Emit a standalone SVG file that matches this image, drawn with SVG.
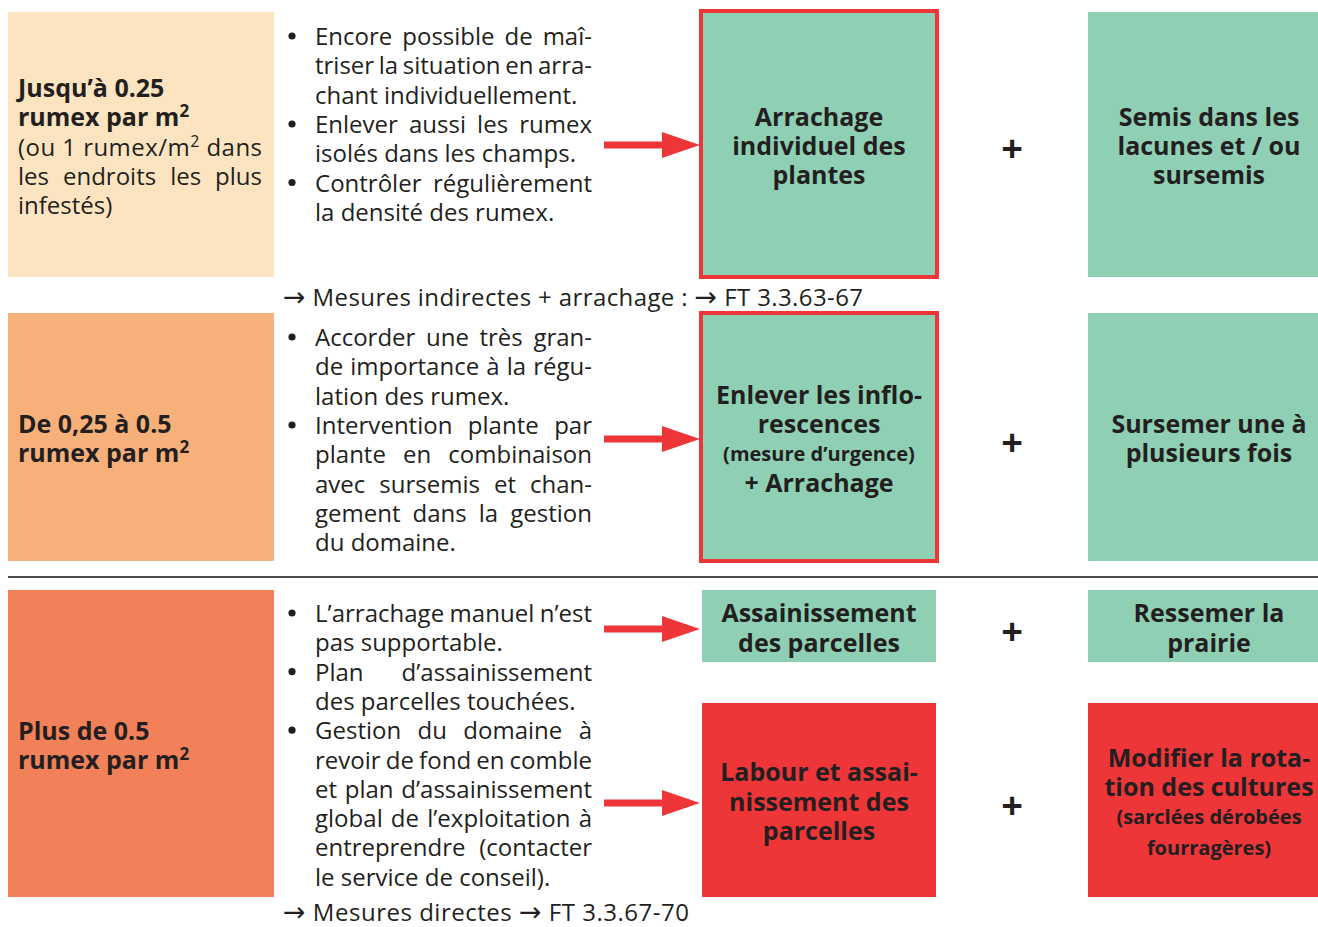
<svg xmlns="http://www.w3.org/2000/svg" width="1318" height="927" viewBox="0 0 1318 927">
<defs>
<style>
.t{font-family:"Open Sans","Liberation Sans",sans-serif;font-size:24px;fill:#231f20}
.b{font-weight:bold;font-size:25px}
.s{font-weight:bold;font-size:20px}
.c{text-anchor:middle}
.e{text-anchor:end}
.ar{font-family:"DejaVu Sans",sans-serif;font-size:27px}
.beige{fill:#fde4c1}
.lor{fill:#f8b07a}
.or{fill:#f28058}
.gr{fill:#8fd0b5}
.rd{fill:#ee3538}
.hl{fill:#8fd0b5;stroke:#ee3538;stroke-width:4}
.bul{fill:#231f20}
.arr{stroke:#ee3538;stroke-width:7;fill:none;marker-end:url(#ah)}
.plus{font-family:"Open Sans","Liberation Sans",sans-serif;font-weight:bold;font-size:38px;fill:#231f20;text-anchor:middle}
</style>
<marker id="ah" markerUnits="userSpaceOnUse" markerWidth="38" markerHeight="26" refX="0" refY="13" orient="auto">
<path d="M0,0 L38,13 L0,26 Z" fill="#ee3538"/>
</marker>
</defs>
<rect width="1318" height="927" fill="#ffffff"/>

<!-- Row 1 -->
<g id="density-low">
<rect class="beige" x="8" y="12" width="266" height="265"/>
<text class="t b" x="18" y="97">Jusqu’à 0.25</text>
<text class="t b" x="18" y="126">rumex par m<tspan font-size="17" dy="-9">2</tspan></text>
<text class="t" x="18" y="156" textLength="244" lengthAdjust="spacing">(ou 1 rumex/m<tspan font-size="16" dy="-9">2</tspan><tspan dy="9"> dans</tspan></text>
<text class="t" x="18" y="184.5" textLength="244" lengthAdjust="spacing" word-spacing="7.7">les endroits les plus</text>
<text class="t" x="18" y="213.5">infestés)</text>
</g>
<g id="text-low">
<circle class="bul" cx="292" cy="36" r="3.6"/>
<circle class="bul" cx="292" cy="124" r="3.6"/>
<circle class="bul" cx="292" cy="182.5" r="3.6"/>
<text class="t" x="315" y="45" textLength="277" lengthAdjust="spacing" word-spacing="3.7">Encore possible de maî-</text>
<text class="t" x="315" y="74.3" textLength="277" lengthAdjust="spacing" word-spacing="-1.6">triser la situation en arra-</text>
<text class="t" x="315" y="103.6">chant individuellement.</text>
<text class="t" x="315" y="133" textLength="277" lengthAdjust="spacing" word-spacing="4.9">Enlever aussi les rumex</text>
<text class="t" x="315" y="162.2">isolés dans les champs.</text>
<text class="t" x="315" y="191.5" textLength="277" lengthAdjust="spacing" word-spacing="5.3">Contrôler régulièrement</text>
<text class="t" x="315" y="220.8">la densité des rumex.</text>
<text class="t" x="283" y="306" textLength="580" lengthAdjust="spacing"><tspan class="ar">→</tspan> Mesures indirectes + arrachage : <tspan class="ar">→</tspan> FT 3.3.63-67</text>
</g>
<g id="action-low">
<rect class="hl" x="701" y="11" width="236" height="266"/>
<text class="t b c" x="819" y="126">Arrachage</text>
<text class="t b c" x="819" y="155">individuel des</text>
<text class="t b c" x="819" y="184">plantes</text>
</g>
<g id="plus-low"><text class="plus" x="1012" y="162">+</text></g>
<g id="extra-low">
<rect class="gr" x="1088" y="12" width="242" height="265"/>
<text class="t b c" x="1209" y="126">Semis dans les</text>
<text class="t b c" x="1209" y="155">lacunes et / ou</text>
<text class="t b c" x="1209" y="184">sursemis</text>
</g>

<!-- Row 2 -->
<g id="density-mid">
<rect class="lor" x="8" y="313" width="266" height="248"/>
<text class="t b" x="18" y="433">De 0,25 à 0.5</text>
<text class="t b" x="18" y="462">rumex par m<tspan font-size="17" dy="-9">2</tspan></text>
</g>
<g id="text-mid">
<circle class="bul" cx="292" cy="337" r="3.6"/>
<circle class="bul" cx="292" cy="425" r="3.6"/>
<text class="t" x="315" y="346" textLength="277" lengthAdjust="spacing" word-spacing="4.4">Accorder une très gran-</text>
<text class="t" x="315" y="375.3" textLength="277" lengthAdjust="spacing" word-spacing="0.8">de importance à la régu-</text>
<text class="t" x="315" y="404.6">lation des rumex.</text>
<text class="t" x="315" y="433.9" textLength="277" lengthAdjust="spacing" word-spacing="9.1">Intervention plante par</text>
<text class="t" x="315" y="463.2" textLength="277" lengthAdjust="spacing" word-spacing="10.8">plante en combinaison</text>
<text class="t" x="315" y="492.5" textLength="277" lengthAdjust="spacing" word-spacing="7.8">avec sursemis et chan-</text>
<text class="t" x="315" y="521.8" textLength="277" lengthAdjust="spacing" word-spacing="5.7">gement dans la gestion</text>
<text class="t" x="315" y="551.1">du domaine.</text>
</g>
<g id="action-mid">
<rect class="hl" x="701" y="313" width="236" height="248"/>
<text class="t b c" x="819" y="404">Enlever les inflo-</text>
<text class="t b c" x="819" y="433">rescences</text>
<text class="t s c" x="819" y="461">(mesure d’urgence)</text>
<text class="t b c" x="819" y="492">+ Arrachage</text>
</g>
<g id="plus-mid"><text class="plus" x="1012" y="456">+</text></g>
<g id="extra-mid">
<rect class="gr" x="1088" y="313" width="242" height="248"/>
<text class="t b c" x="1209" y="433">Sursemer une à</text>
<text class="t b c" x="1209" y="462">plusieurs fois</text>
</g>

<line x1="8" y1="577" x2="1318" y2="577" stroke="#4d4d4d" stroke-width="2"/>

<!-- Row 3 -->
<g id="density-high">
<rect class="or" x="8" y="590" width="266" height="307"/>
<text class="t b" x="18" y="740">Plus de 0.5</text>
<text class="t b" x="18" y="769">rumex par m<tspan font-size="17" dy="-9">2</tspan></text>
</g>
<g id="text-high">
<circle class="bul" cx="292" cy="613" r="3.6"/>
<circle class="bul" cx="292" cy="671.6" r="3.6"/>
<circle class="bul" cx="292" cy="730.2" r="3.6"/>
<text class="t" x="315" y="622" textLength="277" lengthAdjust="spacing" word-spacing="-0.8">L’arrachage manuel n’est</text>
<text class="t" x="315" y="651.3">pas supportable.</text>
<text class="t" x="315" y="680.6">Plan</text>
<text class="t e" x="592" y="680.6">d’assainissement</text>
<text class="t" x="315" y="709.9">des parcelles touchées.</text>
<text class="t" x="315" y="739.2" textLength="277" lengthAdjust="spacing" word-spacing="10.1">Gestion du domaine à</text>
<text class="t" x="315" y="768.5" textLength="277" lengthAdjust="spacing" word-spacing="-1.1">revoir de fond en comble</text>
<text class="t" x="315" y="797.8" textLength="277" lengthAdjust="spacing" word-spacing="1.4">et plan d’assainissement</text>
<text class="t" x="315" y="827.1" textLength="277" lengthAdjust="spacing" word-spacing="1.9">global de l’exploitation à</text>
<text class="t" x="315" y="856.4" textLength="277" lengthAdjust="spacing" word-spacing="7.6">entreprendre (contacter</text>
<text class="t" x="315" y="885.7">le service de conseil).</text>
<text class="t" x="283" y="921" textLength="406" lengthAdjust="spacing"><tspan class="ar">→</tspan> Mesures directes <tspan class="ar">→</tspan> FT 3.3.67-70</text>
</g>
<g id="action-high-1">
<rect class="gr" x="702" y="590" width="234" height="72"/>
<text class="t b c" x="819" y="622">Assainissement</text>
<text class="t b c" x="819" y="652">des parcelles</text>
</g>
<g id="plus-high-1"><text class="plus" x="1012" y="645">+</text></g>
<g id="extra-high-1">
<rect class="gr" x="1088" y="590" width="242" height="72"/>
<text class="t b c" x="1209" y="622">Ressemer la</text>
<text class="t b c" x="1209" y="652">prairie</text>
</g>
<g id="action-high-2">
<rect class="rd" x="702" y="703" width="234" height="194"/>
<text class="t b c" x="819" y="781">Labour et assai-</text>
<text class="t b c" x="819" y="811">nissement des</text>
<text class="t b c" x="819" y="840">parcelles</text>
</g>
<g id="plus-high-2"><text class="plus" x="1012" y="819">+</text></g>
<g id="extra-high-2">
<rect class="rd" x="1088" y="703" width="242" height="194"/>
<text class="t b c" x="1209" y="767">Modifier la rota-</text>
<text class="t b c" x="1209" y="796">tion des cultures</text>
<text class="t s c" x="1209" y="824">(sarclées dérobées</text>
<text class="t s c" x="1209" y="855">fourragères)</text>
</g>

<g id="connectors">
<line class="arr" x1="604" y1="145" x2="662" y2="145"/>
<line class="arr" x1="604" y1="439" x2="662" y2="439"/>
<line class="arr" x1="604" y1="629" x2="662" y2="629"/>
<line class="arr" x1="604" y1="803" x2="662" y2="803"/>
</g>
</svg>
